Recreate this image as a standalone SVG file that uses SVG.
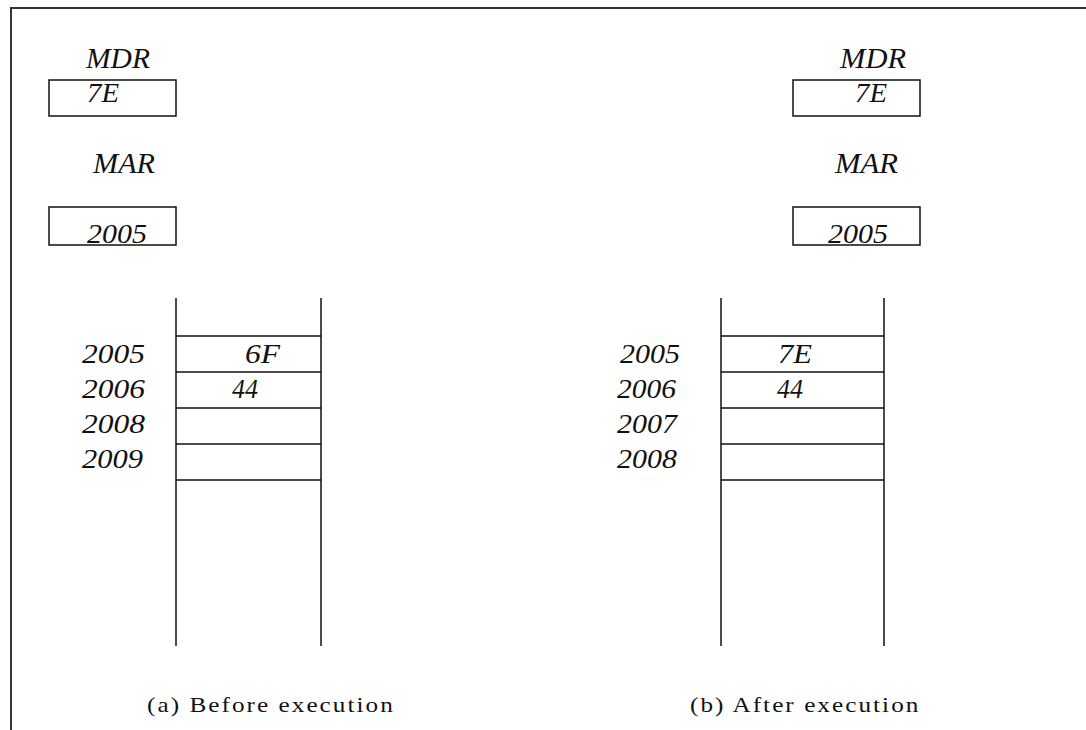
<svg xmlns="http://www.w3.org/2000/svg" width="1086" height="730" viewBox="0 0 1086 730">
  <style>
    .frame { fill: none; stroke: #333; stroke-width: 2; }
    .reg { fill: #fff; stroke: #111; stroke-width: 1.5; }
    .ln { stroke: #111; stroke-width: 1.5; fill: none; }
    .it { font-family: "Liberation Serif", "Times New Roman", serif; font-style: italic; fill: #111; }
    .lbl { font-size: 30px; }
    .val { font-size: 28px; }
    .cap { font-family: "Liberation Serif", "Times New Roman", serif; font-size: 21px; letter-spacing: 1.7px; fill: #111; }
  </style>
  <rect width="1086" height="730" fill="#fff"/>
  <path class="frame" d="M11,730 V8 H1086"/>

  <!-- (a) Before execution -->
  <g id="before-mdr">
    <text class="it lbl" x="86" y="68" textLength="64" lengthAdjust="spacingAndGlyphs">MDR</text>
    <rect class="reg" x="49" y="80" width="127" height="36"/>
    <text class="it val" x="87" y="102" textLength="32" lengthAdjust="spacingAndGlyphs">7E</text>
  </g>
  <g id="before-mar">
    <text class="it lbl" x="93" y="173" textLength="62" lengthAdjust="spacingAndGlyphs">MAR</text>
    <rect class="reg" x="49" y="207" width="127" height="38"/>
    <text class="it val" x="87" y="243" textLength="60" lengthAdjust="spacingAndGlyphs">2005</text>
  </g>
  <g id="before-memory">
    <path class="ln" d="M176,298 V646 M321,298 V646 M176,336 H321 M176,372 H321 M176,408 H321 M176,444 H321 M176,480 H321"/>
    <text class="it val" x="82" y="363" textLength="63" lengthAdjust="spacingAndGlyphs">2005</text>
    <text class="it val" x="82" y="398" textLength="63" lengthAdjust="spacingAndGlyphs">2006</text>
    <text class="it val" x="82" y="433" textLength="63" lengthAdjust="spacingAndGlyphs">2008</text>
    <text class="it val" x="82" y="468" textLength="61" lengthAdjust="spacingAndGlyphs">2009</text>
    <text class="it val" x="245" y="363" textLength="35" lengthAdjust="spacingAndGlyphs">6F</text>
    <text class="it val" x="232" y="398" textLength="26" lengthAdjust="spacingAndGlyphs">44</text>
  </g>
  <g id="caption-a">
    <text class="cap" transform="translate(147,712) scale(1.2,1)" x="0" y="0">(a) Before execution</text>
  </g>

  <!-- (b) After execution -->
  <g id="after-mdr">
    <text class="it lbl" x="840" y="68" textLength="66" lengthAdjust="spacingAndGlyphs">MDR</text>
    <rect class="reg" x="793" y="80" width="127" height="36"/>
    <text class="it val" x="855" y="102" textLength="32" lengthAdjust="spacingAndGlyphs">7E</text>
  </g>
  <g id="after-mar">
    <text class="it lbl" x="835" y="173" textLength="63" lengthAdjust="spacingAndGlyphs">MAR</text>
    <rect class="reg" x="793" y="207" width="127" height="38"/>
    <text class="it val" x="828" y="243" textLength="60" lengthAdjust="spacingAndGlyphs">2005</text>
  </g>
  <g id="after-memory">
    <path class="ln" d="M721,298 V646 M884,298 V646 M721,336 H884 M721,372 H884 M721,408 H884 M721,444 H884 M721,480 H884"/>
    <text class="it val" x="620" y="363" textLength="60" lengthAdjust="spacingAndGlyphs">2005</text>
    <text class="it val" x="617" y="398" textLength="59" lengthAdjust="spacingAndGlyphs">2006</text>
    <text class="it val" x="617" y="433" textLength="60" lengthAdjust="spacingAndGlyphs">2007</text>
    <text class="it val" x="617" y="468" textLength="60" lengthAdjust="spacingAndGlyphs">2008</text>
    <text class="it val" x="778" y="363" textLength="34" lengthAdjust="spacingAndGlyphs">7E</text>
    <text class="it val" x="777" y="398" textLength="26" lengthAdjust="spacingAndGlyphs">44</text>
  </g>
  <g id="caption-b">
    <text class="cap" transform="translate(690,712) scale(1.2,1)" x="0" y="0">(b) After execution</text>
  </g>
  <g id="connectors"/>
</svg>
